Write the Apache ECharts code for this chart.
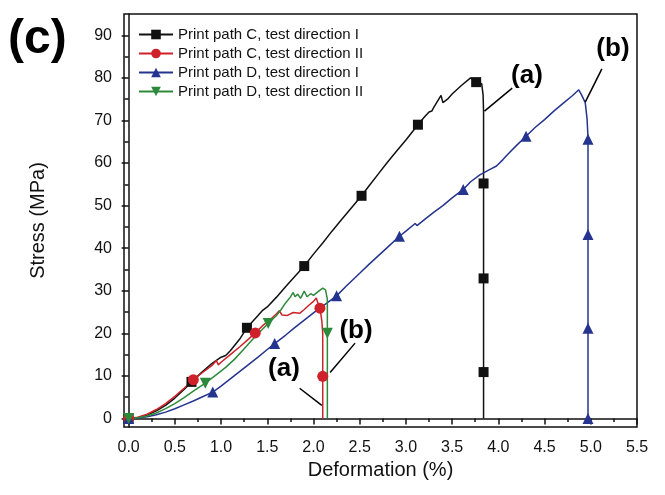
<!DOCTYPE html>
<html>
<head>
<meta charset="utf-8">
<script src="https://cdn.jsdelivr.net/npm/echarts@6/dist/echarts.min.js"></script>
<style>
  html, body { margin: 0; padding: 0; background: #fff; }
  #chart { width: 665px; height: 495px; }
</style>
</head>
<body>
<div id="chart"></div>
<script>
// stress-strain curves, [deformation %, stress MPa]
var pathCdirI = [[0,0],[0.1,0.2],[0.2,0.8],[0.3,1.8],[0.4,3.1],[0.5,4.8],[0.6,6.8],[0.68,8.6],[0.8,11],[0.9,12.9],[1.0,14.4],
  [1.05,14.8],[1.1,15.9],[1.2,18.6],[1.28,21.3],[1.4,24.2],[1.45,25.4],[1.47,25.0],[1.5,26.2],[1.6,28.5],[1.7,31],[1.8,33.4],
  [1.9,35.8],[2.0,38.6],[2.1,41.2],[2.2,44],[2.3,46.6],[2.4,49.2],[2.52,52.3],[2.6,54.6],[2.7,57.4],[2.8,60.2],[2.9,62.8],
  [3.0,65.4],[3.13,69],[3.2,70.8],[3.25,72],[3.28,72.2],[3.3,73],[3.38,75.9],[3.40,74.2],[3.45,75],[3.5,76.2],[3.6,78.2],
  [3.7,80],[3.76,79],[3.82,78.6],[3.835,76],[3.84,72],[3.84,0]];
var pathCdirII = [[0,0],[0.1,0.3],[0.2,1],[0.3,2.1],[0.4,3.5],[0.5,5.2],[0.6,7.1],[0.7,9.1],[0.8,10.8],[0.9,12.4],[0.95,13.6],
  [0.97,12.6],[1.0,13.2],[1.1,15.0],[1.2,16.8],[1.3,18.7],[1.37,20.1],[1.45,21.8],[1.55,23.6],[1.6,24.6],[1.63,25.3],[1.66,24.3],
  [1.72,24.2],[1.78,24.9],[1.85,24.7],[1.9,25.6],[1.95,26.6],[2.0,27.5],[2.03,28.3],[2.05,27],[2.07,25.9],[2.09,23],[2.1,20],[2.1,0]];
var pathDdirI = [[0,0],[0.1,0.1],[0.2,0.4],[0.3,0.9],[0.4,1.5],[0.5,2.3],[0.6,3.2],[0.7,4.1],[0.8,5.1],[0.91,6.2],[1.0,7.6],
  [1.1,9.3],[1.2,11],[1.3,12.7],[1.4,14.4],[1.5,16.2],[1.58,17.6],[1.7,19.6],[1.8,21.4],[1.9,23.1],[2.0,24.8],[2.1,26.4],
  [2.25,28.8],[2.35,31],[2.5,34.1],[2.6,36.2],[2.7,38.2],[2.8,40.2],[2.93,42.8],[3.0,44],[3.1,45.8],[3.12,45.3],[3.2,46.7],
  [3.3,48.4],[3.4,50],[3.5,51.8],[3.62,53.8],[3.7,55.6],[3.8,57.2],[3.9,58.4],[3.98,59.3],[4.05,60.8],[4.1,62],[4.2,64.2],
  [4.3,66.3],[4.4,68.4],[4.5,70.2],[4.6,72.2],[4.7,74],[4.8,75.8],[4.87,77.2],[4.9,76],[4.94,74.2],[4.96,70.3],[4.97,66],[4.97,0]];
var pathDdirII = [[0,0],[0.1,0.15],[0.2,0.6],[0.3,1.3],[0.4,2.3],[0.5,3.5],[0.6,4.9],[0.7,6.4],[0.83,8.3],[0.95,10.3],[1.05,12],
  [1.15,14],[1.25,16.4],[1.35,18.8],[1.45,21],[1.51,22.3],[1.6,24.2],[1.65,25.6],[1.7,27.2],[1.75,28.5],[1.78,29.6],[1.8,28.6],
  [1.83,29.2],[1.86,28.2],[1.9,29.9],[1.93,28.6],[1.97,29.3],[2.0,28.9],[2.05,29.8],[2.1,30.6],[2.13,30.2],[2.15,28],[2.15,0]];

// marker points on each curve
var markCdirI = [[0,0],[0.68,8.6],[1.28,21.3],[1.9,35.8],[2.52,52.3],[3.13,69],[3.76,79],[3.84,55.2],[3.84,32.9],[3.84,10.9]];
var markCdirII = [[0,0],[0.7,9.1],[1.37,20.1],[2.07,25.9],[2.1,9.9]];
var markDdirI = [[0,0],[0.91,6.2],[1.58,17.6],[2.25,28.8],[2.93,42.8],[3.62,53.8],[4.3,66.3],[4.97,65.6],[4.97,43.2],[4.97,21.2],[4.97,0]];
var markDdirII = [[0,0],[0.83,8.3],[1.51,22.3],[2.15,20]];

var names = ['Print path C, test direction I', 'Print path C, test direction II',
  'Print path D, test direction I', 'Print path D, test direction II'];

var xTicks = [0,0.5,1,1.5,2,2.5,3,3.5,4,4.5,5,5.5];
var xMinor = [0.25,0.75,1.25,1.75,2.25,2.75,3.25,3.75,4.25,4.75,5.25];
var yTicks = [0,10,20,30,40,50,60,70,80,90];
var yMinor = [5,15,25,35,45,55,65,75,85];

// annotation labels and leader lines
var notes = [{text:'(a)', at:[4.31,80.4]}, {text:'(b)', at:[5.24,86.8]}, {text:'(a)', at:[1.68,11.6]}, {text:'(b)', at:[2.46,20.5]}];
var leaders = [[[3.85,72.2],[4.15,77.6]], [[4.94,74.3],[5.12,82.1]], [[1.85,7.1],[2.09,3.1]], [[2.18,10.8],[2.45,17.7]]];

var colors = ['#111111', '#cf2129', '#25348f', '#2e8a3b'];
var symbols = ['rect', 'circle', 'triangle', 'path://M0,0 L10,0 L5,9 Z'];
var sizes = [10, 11, 11, 11];
var curves = [pathCdirI, pathCdirII, pathDdirI, pathDdirII];
var marks = [markCdirI, markCdirII, markDdirI, markDdirII];

var font = 'Liberation Sans, Arial, sans-serif';
var chart = echarts.init(document.getElementById('chart'));

var series = [];
curves.forEach(function (c, i) {
  series.push({
    name: names[i], type: 'line', data: c,
    symbol: symbols[i], showSymbol: false, symbolSize: sizes[i],
    lineStyle: { color: colors[i], width: 1.5 },
    itemStyle: { color: colors[i] },
    z: 2
  });
});
marks.forEach(function (m, i) {
  var s = {
    name: 'markers ' + i, type: 'scatter', data: m,
    symbol: symbols[i], symbolSize: sizes[i],
    itemStyle: { color: colors[i], opacity: 1 },
    z: 3
  };
  if (i == 0) {
    s.markLine = {
      silent: true, symbol: ['none', 'none'], label: { show: false },
      lineStyle: { color: '#000', width: 1.5, type: 'solid' },
      data: leaders.map(function (l) { return [{ coord: l[0] }, { coord: l[1] }]; })
    };
    s.markPoint = {
      silent: true, symbol: 'circle', symbolSize: 0,
      label: { show: true, position: 'inside', formatter: '{b}', color: '#000', fontSize: 26, fontWeight: 'bold', fontFamily: font },
      data: notes.map(function (n) { return { name: n.text, coord: n.at }; })
    };
  }
  series.push(s);
});

chart.setOption({
  animation: false,
  title: { text: '(c)', left: 8, top: 16, padding: 0, textStyle: { fontSize: 48, fontWeight: 'bold', color: '#000', fontFamily: font } },
  legend: {
    data: names, orient: 'vertical', left: 133, top: 22, itemWidth: 34, itemHeight: 12, itemGap: 4,
    textStyle: { fontSize: 15, lineHeight: 15, color: '#111', fontFamily: font }
  },
  grid: { left: 124, right: 28, top: 14, bottom: 68, show: true, borderColor: '#111', borderWidth: 1.5 },
  xAxis: [{
    type: 'value', min: -0.05, max: 5.5, splitLine: { show: false },
    name: 'Deformation (%)', nameLocation: 'middle', nameGap: 33,
    nameTextStyle: { fontSize: 20, color: '#111', fontFamily: font },
    axisLine: { show: true, lineStyle: { color: '#111', width: 1.5 } },
    axisTick: { show: true, customValues: xTicks, length: 6, lineStyle: { color: '#111', width: 1.5 } },
    axisLabel: { customValues: xTicks, margin: 13, fontSize: 16, color: '#111', fontFamily: font,
      formatter: function (v) { return v.toFixed(1); } }
  }, {
    type: 'value', min: -0.05, max: 5.5, position: 'bottom', splitLine: { show: false },
    axisLine: { show: false }, axisLabel: { show: false },
    axisTick: { show: true, customValues: xMinor, length: 3.5, lineStyle: { color: '#111', width: 1.5 } }
  }],
  yAxis: [{
    type: 'value', min: -2, max: 95, splitLine: { show: false },
    name: 'Stress (MPa)', nameLocation: 'middle', nameGap: 76,
    nameTextStyle: { fontSize: 20, color: '#111', fontFamily: font },
    axisLine: { show: true, lineStyle: { color: '#111', width: 1.5 } },
    axisTick: { show: true, customValues: yTicks, length: 7, lineStyle: { color: '#111', width: 1.5 } },
    axisLabel: { customValues: yTicks, margin: 12, fontSize: 16, color: '#111', fontFamily: font }
  }, {
    type: 'value', min: -2, max: 95, position: 'left', splitLine: { show: false },
    axisLine: { show: false }, axisLabel: { show: false },
    axisTick: { show: true, customValues: yMinor, length: 4, lineStyle: { color: '#111', width: 1.5 } }
  }],
  series: series
});
</script>
</body>
</html>
